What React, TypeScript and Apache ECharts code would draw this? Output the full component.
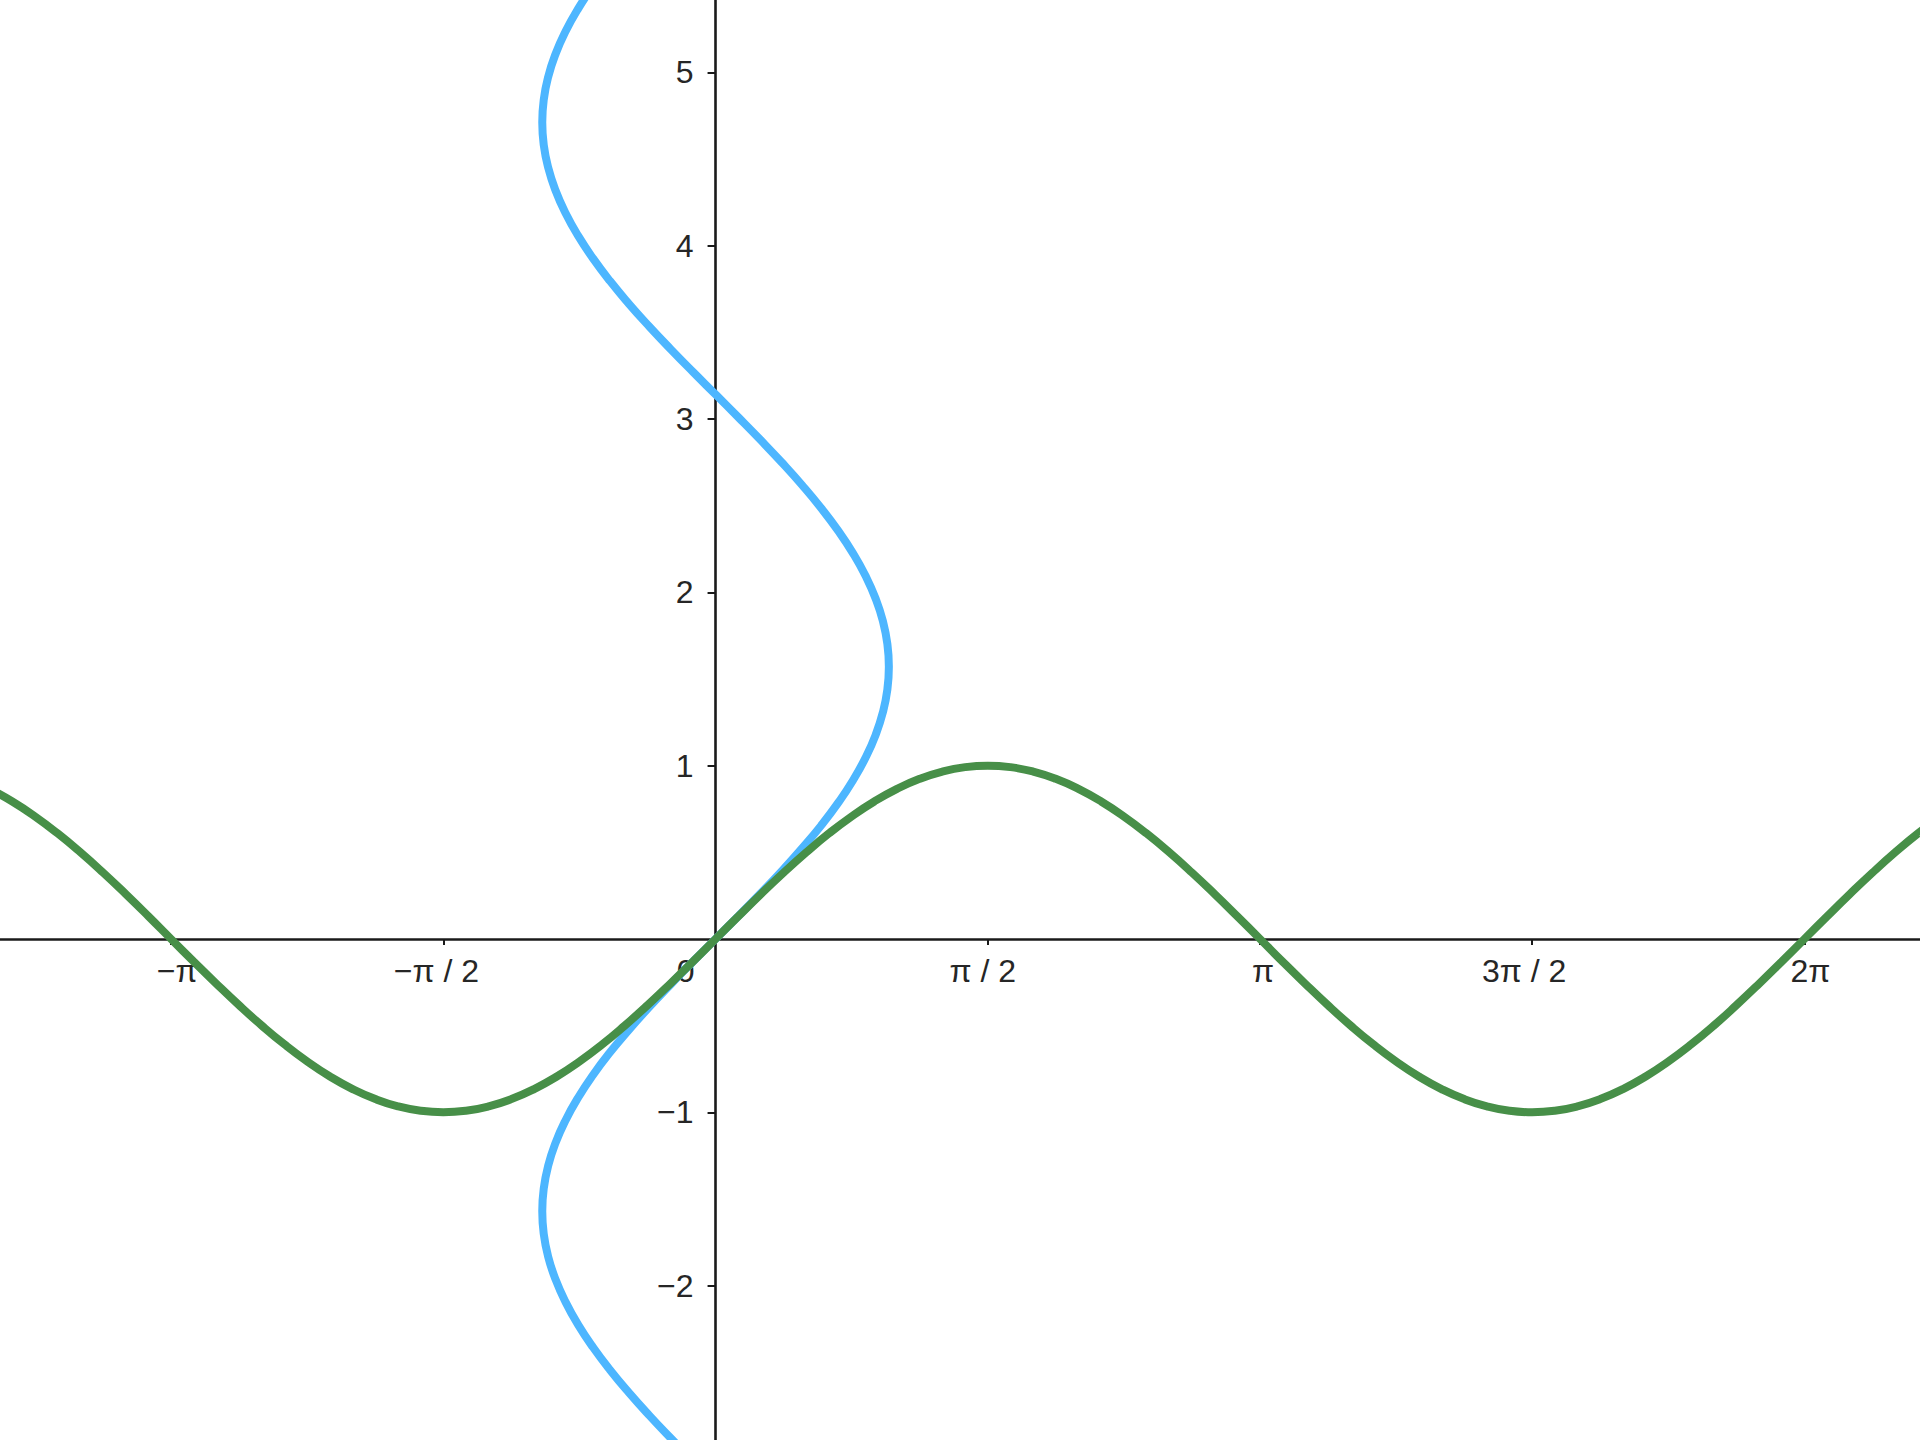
import React, { useEffect, useRef } from "react";
import * as echarts from "echarts";

// Canvas size and the visible window of the plane
const W = 1920;
const H = 1440;
const X_MIN = -4.129;
const X_MAX = 6.95;
const Y_MIN = -2.891;
const Y_MAX = 5.418;

// x-axis ticks, in multiples of π/2, with their labels
const xTickSteps = [-2, -1, 0, 1, 2, 3, 4];
const xTickLabels = ["−π", "−π / 2", "0", "π / 2", "π", "3π / 2", "2π"];

// y-axis ticks
const yTicks = [-2, -1, 1, 2, 3, 4, 5];
const yTickLabels = ["−2", "−1", "1", "2", "3", "4", "5"];

// Sampled angles (every π/24) and their sines
const angles = [
  -4.189, -4.058, -3.927, -3.796, -3.665, -3.534, -3.403, -3.272, -3.142, -3.011, -2.88,
  -2.749, -2.618, -2.487, -2.356, -2.225, -2.094, -1.963, -1.833, -1.702, -1.571, -1.44,
  -1.309, -1.178, -1.047, -0.916, -0.785, -0.654, -0.524, -0.393, -0.262, -0.131, 0,
  0.131, 0.262, 0.393, 0.524, 0.654, 0.785, 0.916, 1.047, 1.178, 1.309, 1.44, 1.571,
  1.702, 1.833, 1.963, 2.094, 2.225, 2.356, 2.487, 2.618, 2.749, 2.88, 3.011, 3.142,
  3.272, 3.403, 3.534, 3.665, 3.796, 3.927, 4.058, 4.189, 4.32, 4.451, 4.581, 4.712,
  4.843, 4.974, 5.105, 5.236, 5.367, 5.498, 5.629, 5.76, 5.89, 6.021, 6.152, 6.283,
  6.414, 6.545, 6.676, 6.807, 6.938, 7.069,
];
const sines = [
  0.866, 0.7934, 0.7071, 0.6088, 0.5, 0.3827, 0.2588, 0.1305, 0, -0.1305, -0.2588,
  -0.3827, -0.5, -0.6088, -0.7071, -0.7934, -0.866, -0.9239, -0.9659, -0.9914, -1,
  -0.9914, -0.9659, -0.9239, -0.866, -0.7934, -0.7071, -0.6088, -0.5, -0.3827, -0.2588,
  -0.1305, 0, 0.1305, 0.2588, 0.3827, 0.5, 0.6088, 0.7071, 0.7934, 0.866, 0.9239,
  0.9659, 0.9914, 1, 0.9914, 0.9659, 0.9239, 0.866, 0.7934, 0.7071, 0.6088, 0.5,
  0.3827, 0.2588, 0.1305, 0, -0.1305, -0.2588, -0.3827, -0.5, -0.6088, -0.7071,
  -0.7934, -0.866, -0.9239, -0.9659, -0.9914, -1, -0.9914, -0.9659, -0.9239, -0.866,
  -0.7934, -0.7071, -0.6088, -0.5, -0.3827, -0.2588, -0.1305, 0, 0.1305, 0.2588,
  0.3827, 0.5, 0.6088, 0.7071,
];

const FONT = "'Liberation Sans', Arial, sans-serif";
const AXIS_COLOR = "#1a1a1a";
const LABEL_COLOR = "#262626";
const FONT_SIZE = 32;
const GREEN = "#478F48";
const BLUE = "#4DB6FF";
const LINE_WIDTH = 8;

// Horizontal nudge (px) of each x-axis label relative to its tick
const xLabelNudge = [6, -7, -30, -5, 3, -8, 6];

export default function App() {
  const ref = useRef<HTMLDivElement>(null);

  useEffect(() => {
    if (!ref.current) return;
    const chart = echarts.init(ref.current, undefined, { renderer: "svg" });

    // Pixel position of the origin, derived from the visible window
    const originLeft = (W * (0 - X_MIN)) / (X_MAX - X_MIN);
    const originTop = (H * (Y_MAX - 0)) / (Y_MAX - Y_MIN);

    const labelBase = { color: LABEL_COLOR, fontSize: FONT_SIZE, fontFamily: FONT };

    const xTickValues = xTickSteps.map((k) => (k * Math.PI) / 2);
    // one rich style per label, padded on one side to shift it
    const xRich: Record<string, object> = {};
    xLabelNudge.forEach((d, i) => {
      const pad = Math.abs(d) * 2;
      xRich[`l${i}`] = { ...labelBase, padding: d >= 0 ? [0, 0, 0, pad] : [0, pad, 0, 0] };
    });
    const xLabelFor = (v: number) => {
      const i = xTickValues.findIndex((t) => Math.abs(t - v) < 1e-6);
      return i < 0 ? "" : `{l${i}|${xTickLabels[i]}}`;
    };
    const yLabelFor = (v: number) => {
      const i = yTicks.findIndex((t) => Math.abs(t - v) < 1e-6);
      return i < 0 ? "" : yTickLabels[i];
    };

    // y = sin x and x = sin y
    const green = angles.map((a, i) => [a, sines[i]]);
    const blue = angles.map((a, i) => [sines[i], a]);

    const hidden = { show: false, type: "value" as const, min: 0, max: 1 };
    const axisLine = { show: true, onZero: false, lineStyle: { color: AXIS_COLOR, width: 2.6 } };

    chart.setOption({
      animation: false,
      backgroundColor: "#ffffff",
      grid: [
        // plotting area
        { left: 0, right: 0, top: 0, bottom: 0, containLabel: false, outerBoundsMode: "none" },
        // host for the horizontal axis, its lower edge on y = 0
        { left: 0, right: 0, top: 0, height: originTop, containLabel: false, outerBoundsMode: "none" },
        // host for the vertical axis, its left edge on x = 0
        { left: originLeft, right: 0, top: 0, bottom: 0, containLabel: false, outerBoundsMode: "none" },
      ],
      xAxis: [
        { gridIndex: 0, type: "value", min: X_MIN, max: X_MAX, show: false },
        {
          gridIndex: 1,
          type: "value",
          position: "bottom",
          min: X_MIN,
          max: X_MAX,
          axisLine,
          axisTick: {
            show: true,
            length: 6,
            customValues: xTickValues.filter((v) => Math.abs(v) > 1e-9),
            lineStyle: { color: AXIS_COLOR, width: 2 },
          },
          axisLabel: {
            show: true,
            customValues: xTickValues,
            formatter: xLabelFor,
            margin: 16,
            ...labelBase,
            rich: xRich,
          },
          splitLine: { show: false },
        },
        { gridIndex: 2, ...hidden },
      ],
      yAxis: [
        { gridIndex: 0, type: "value", min: Y_MIN, max: Y_MAX, show: false },
        { gridIndex: 1, ...hidden },
        {
          gridIndex: 2,
          type: "value",
          position: "left",
          min: Y_MIN,
          max: Y_MAX,
          axisLine,
          axisTick: {
            show: true,
            length: 8,
            customValues: yTicks,
            lineStyle: { color: AXIS_COLOR, width: 2 },
          },
          axisLabel: {
            show: true,
            customValues: yTicks,
            formatter: yLabelFor,
            margin: 22,
            ...labelBase,
          },
          splitLine: { show: false },
        },
      ],
      series: [
        {
          name: "x = sin y",
          type: "line",
          xAxisIndex: 0,
          yAxisIndex: 0,
          data: blue,
          smooth: 0.5,
          showSymbol: false,
          clip: true,
          lineStyle: { color: BLUE, width: LINE_WIDTH },
          z: 3,
        },
        {
          name: "y = sin x",
          type: "line",
          xAxisIndex: 0,
          yAxisIndex: 0,
          data: green,
          smooth: 0.5,
          showSymbol: false,
          clip: true,
          lineStyle: { color: GREEN, width: LINE_WIDTH },
          z: 4,
        },
      ],
    });

    return () => chart.dispose();
  }, []);

  return (
    <div
      ref={ref}
      style={{ position: "absolute", left: 0, top: 0, width: W, height: H, background: "#fff" }}
    />
  );
}
